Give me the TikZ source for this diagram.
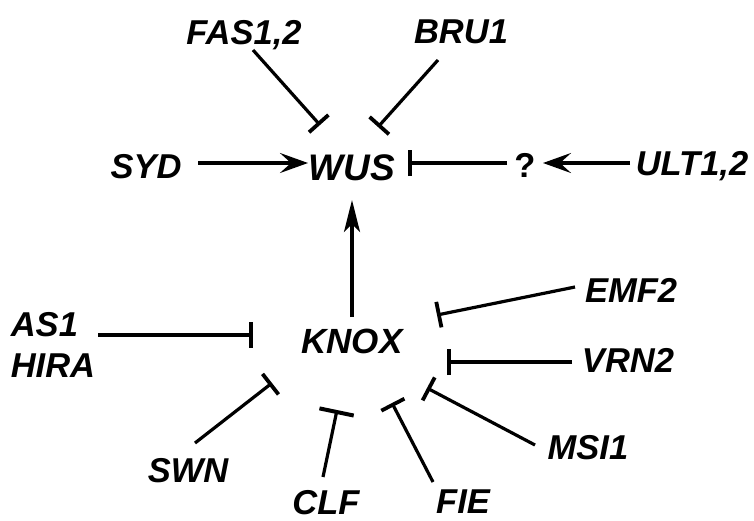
\documentclass[tikz,border=0pt]{standalone}
\usepackage{fontspec}
\setmainfont{Liberation Sans}
\usetikzlibrary{arrows.meta}

\newcommand{\genefont}{\fontsize{34.5}{41}\selectfont\bfseries\itshape}

\begin{document}
\begin{tikzpicture}[x=1pt, y=-1pt,
  gene/.style={font=\genefont, inner sep=0pt, text depth=0pt},
  act/.style={line width=3.2pt, -{Stealth[length=28pt,width=20pt,inset=11pt]}},
  inh/.style={line width=3.2pt, -{Bar[width=26pt,line width=3.8pt]}}]
\useasboundingbox (0,0) rectangle (754,520);
% genes around WUS
\node[gene] (fas) at (244,32) {FAS1,2};
\node[gene] (bru) at (461,32) {BRU1};
\node[gene] (syd) at (146,166) {SYD};
\node[gene, font=\fontsize{37}{41}\selectfont\bfseries\itshape] (wus) at (352,168) {WUS};
\node[gene, font=\fontsize{34.5}{41}\selectfont\bfseries] (q) at (525,165) {?};
\node[gene] (ult) at (692,163) {ULT1,2};
% genes around KNOX
\node[gene, font=\fontsize{35}{41}\selectfont\bfseries\itshape] (knox) at (352,341) {KNOX};
\node[font=\genefont, inner sep=0pt, align=left] (ashira) at (53,345) {AS1\\HIRA};
\node[gene] (emf) at (631,290) {EMF2};
\node[gene] (vrn) at (628,360) {VRN2};
\node[gene] (msi) at (588,447) {MSI1};
\node[gene] (fie) at (463,502) {FIE};
\node[gene] (clf) at (326,502) {CLF};
\node[gene] (swn) at (188,470) {SWN};
% regulation of WUS
\draw[inh] ([shift={(9,18)}]fas.center) -- ([shift={(-32,-43)}]wus.center);
\draw[inh] ([shift={(-23,28)}]bru.center) -- ([shift={(26,-41)}]wus.center);
\draw[act] ([shift={(52,-3)}]syd.center) -- ([shift={(-44,-5)}]wus.center);
\draw[inh] ([shift={(-18,-2)}]q.center) -- ([shift={(56,-5)}]wus.center);
\draw[act] ([shift={(-62,0)}]ult.center) -- ([shift={(18,-2)}]q.center);
\draw[act, -{Stealth[length=32pt,width=16pt,inset=8pt]}]
  ([shift={(0,-24)}]knox.center) -- ([shift={(0,32)}]wus.center);
% repressors of KNOX
\draw[inh] ([shift={(45,-10)}]ashira.center) -- ([shift={(-99,-6)}]knox.center);
\foreach \src/\sx/\sy/\ex/\ey in {emf/-56/-3/85/-26, vrn/-56/2/95/21,
    msi/-53/-2/75/47, fie/-30/-20/40/62, swn/7/-27/-80/42}
  \draw[inh] ([shift={(\sx,\sy)}]\src.center) -- ([shift={(\ex,\ey)}]knox.center);
\draw[line width=3.2pt, -{Bar[width=35pt,line width=4pt]}]
  ([shift={(-3,-25)}]clf.center) -- ([shift={(-15,69)}]knox.center);
\end{tikzpicture}
\end{document}
